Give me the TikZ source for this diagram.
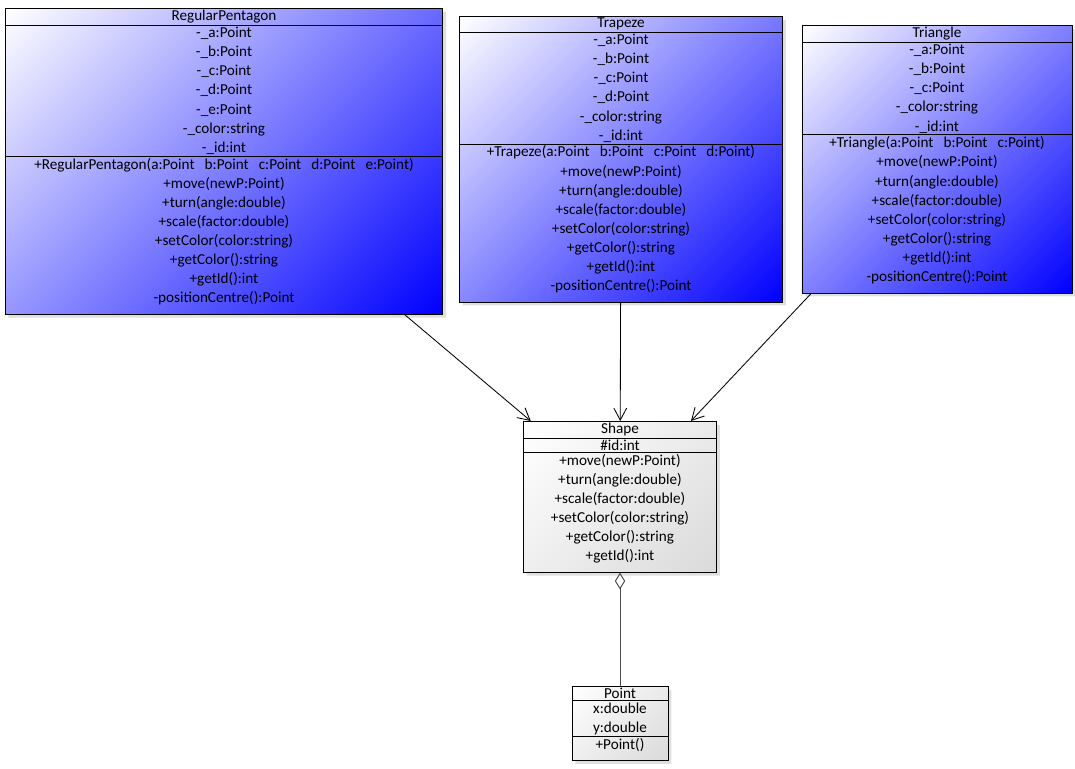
\documentclass[tikz,border=0pt]{standalone}
\usepackage{fontspec}
\setmainfont{Carlito}
\usetikzlibrary{arrows.meta, shapes.multipart, shadows}
\definecolor{clsblue}{RGB}{0,0,255}
\definecolor{clsgray}{RGB}{218,218,218}
\pgfdeclareverticalshading{blushade}{100bp}{color(0bp)=(clsblue); color(14.6bp)=(clsblue); color(85.4bp)=(white); color(100bp)=(white)}
\pgfdeclareverticalshading{gryshade}{100bp}{color(0bp)=(clsgray); color(14.6bp)=(clsgray); color(85.4bp)=(white); color(100bp)=(white)}
\newcommand{\botpad}{\rule[-6.7pt]{0pt}{0pt}}
\tikzset{
  cls/.style={draw, line width=0.6pt, rectangle split, rectangle split parts=3,
    text width=#1, align=center, inner xsep=2pt, inner ysep=1pt,
    font=\fontsize{10.8}{13.6}\selectfont, drop shadow={opacity=0.25}},
  blu/.style={shading=blushade, shading angle=45},
  gry/.style={shading=gryshade, shading angle=45},
  arr/.style={-{Straight Barb[length=3mm, width=3.2mm]}, line width=0.6pt},
  agg/.style={{Diamond[open, length=4.2mm, width=2.6mm]}-, line width=0.7pt, draw=black!70},
}

\begin{document}
\begin{tikzpicture}[x=0.025cm, y=-0.025cm]
  \useasboundingbox (0,0) rectangle (1075,768);
  \node[cls=10.8cm, blu, anchor=north] (pent) at (224,8) {RegularPentagon
    \nodepart{two} -\_a:Point\\-\_b:Point\\-\_c:Point\\-\_d:Point\\-\_e:Point\\-\_color:string\\-\_id:int
    \nodepart{three} +RegularPentagon(a:Point\ \ b:Point\ \ c:Point\ \ d:Point\ \ e:Point)\\+move(newP:Point)\\+turn(angle:double)\\+scale(factor:double)\\+setColor(color:string)\\+getColor():string\\+getId():int\\-positionCentre():Point\botpad};
  \node[cls=7.93cm, blu, anchor=north] (trap) at (621,16) {Trapeze
    \nodepart{two} -\_a:Point\\-\_b:Point\\-\_c:Point\\-\_d:Point\\-\_color:string\\-\_id:int
    \nodepart{three} +Trapeze(a:Point\ \ b:Point\ \ c:Point\ \ d:Point)\\+move(newP:Point)\\+turn(angle:double)\\+scale(factor:double)\\+setColor(color:string)\\+getColor():string\\+getId():int\\-positionCentre():Point\botpad};
  \node[cls=6.61cm, blu, anchor=north] (tri) at (937,25) {Triangle
    \nodepart{two} -\_a:Point\\-\_b:Point\\-\_c:Point\\-\_color:string\\-\_id:int
    \nodepart{three} +Triangle(a:Point\ \ b:Point\ \ c:Point)\\+move(newP:Point)\\+turn(angle:double)\\+scale(factor:double)\\+setColor(color:string)\\+getColor():string\\+getId():int\\-positionCentre():Point\botpad};
  \node[cls=4.68cm, gry, anchor=north] (shape) at (620,421) {Shape
    \nodepart{two} \#id:int
    \nodepart{three} +move(newP:Point)\\+turn(angle:double)\\+scale(factor:double)\\+setColor(color:string)\\+getColor():string\\+getId():int\botpad};
  \node[cls=2.26cm, gry, anchor=north] (point) at (620,686) {Point
    \nodepart{two} x:double\\y:double
    \nodepart{three} +Point()\botpad};
  % inheritance
  \draw[arr] (pent) -- (shape);
  \draw[arr] (trap) -- (shape);
  \draw[arr] (tri) -- (shape);
  % aggregation
  \draw[agg] (shape) -- (point);
\end{tikzpicture}
\end{document}
